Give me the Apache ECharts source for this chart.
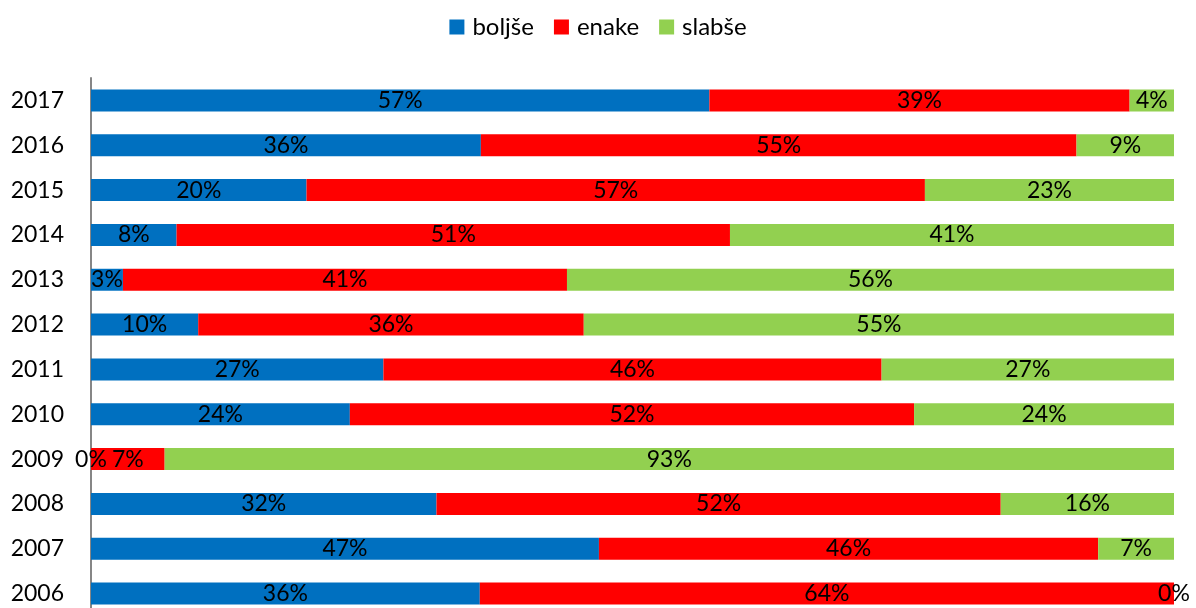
<!DOCTYPE html>
<html>
<head>
<meta charset="utf-8">
<script src="https://cdn.jsdelivr.net/npm/echarts@6/dist/echarts.min.js"></script>
<style>html,body{margin:0;padding:0;background:#fff;overflow:hidden;width:1196px;height:608px}#c{width:1196px;height:616px}</style>
</head>
<body>
<div id="c"></div>
<script>
var years = ['2006','2007','2008','2009','2010','2011','2012','2013','2014','2015','2016','2017'];
var bolje = [35.9, 46.9, 31.9, 0, 23.9, 27.0, 9.9, 2.95, 7.9, 19.9, 36.0, 57.1];
var enake = [64.1, 46.1, 52.1, 6.8, 52.1, 46.0, 35.6, 41.0, 51.1, 57.1, 55.0, 38.8];
var slabse = [0, 7.0, 16.0, 93.2, 24.0, 27.0, 54.5, 56.05, 41.0, 23.0, 9.0, 4.1];
var names = ['boljše', 'enake', 'slabše'];
var colors = ['#0070C0', '#FF0000', '#92D050'];
var FONT = 'Lato, "Open Sans", sans-serif';

var chart = echarts.init(document.getElementById('c'));
function mk(i, data) {
  return {
    name: names[i], type: 'bar', stack: 'total', data: data,
    barCategoryGap: '51%',
    itemStyle: { color: colors[i] },
    label: {
      show: true, position: 'inside', color: '#000',
      fontFamily: FONT, fontSize: 23,
      formatter: function (p) { return Math.round(p.value) + '%'; }
    }
  };
}
chart.setOption({
  animation: false,
  legend: {
    top: 10, left: 'center', itemWidth: 15, itemHeight: 15, itemGap: 20,
    icon: 'rect',
    textStyle: { fontFamily: FONT, fontSize: 24, color: '#000', padding: [0, 0, 0, 3] },
    data: names
  },
  grid: { left: 91, right: 22, top: 78, bottom: 0 },
  xAxis: { type: 'value', min: 0, max: 100, show: false },
  yAxis: {
    type: 'category', data: years,
    axisLine: { show: true, lineStyle: { color: '#868686', width: 2 } },
    axisTick: { show: false },
    axisLabel: { color: '#000', fontFamily: FONT, fontSize: 23, margin: 27 }
  },
  series: [mk(0, bolje), mk(1, enake), mk(2, slabse)]
});
</script>
</body>
</html>
